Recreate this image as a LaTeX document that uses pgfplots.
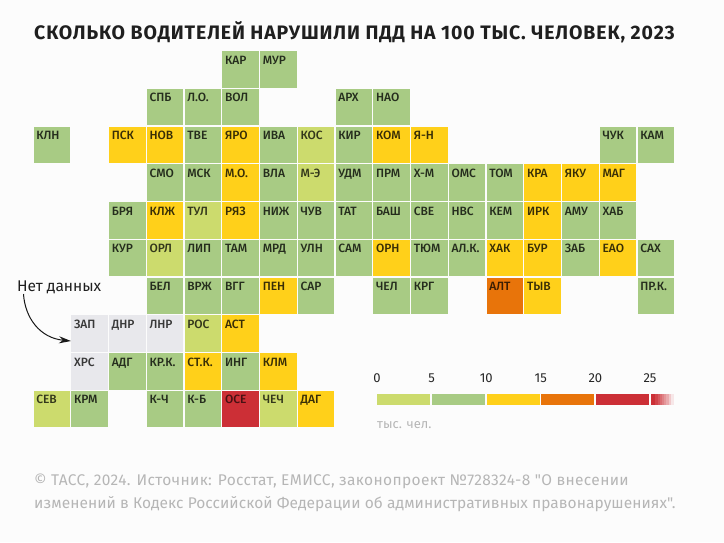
\documentclass[border=0pt]{standalone}
\usepackage{fontspec}
\usepackage{pgfplots}
\usepackage{pgfplotstable}
\pgfplotsset{compat=1.18}
\usetikzlibrary{arrows.meta}
\setmainfont{Fira Sans}
\newfontfamily\cellfont{Fira Sans Medium}
\newfontfamily\titlefont[LetterSpace=4.5]{Fira Sans}
\newfontfamily\footA[LetterSpace=2.3]{Fira Sans}
\newfontfamily\footB[LetterSpace=0.4]{Fira Sans}
\definecolor{bg}{RGB}{252,252,252}
\definecolor{cA}{RGB}{204,219,109}
\definecolor{cB}{RGB}{168,203,132}
\definecolor{cC}{RGB}{255,208,26}
\definecolor{cD}{RGB}{232,116,10}
\definecolor{cE}{RGB}{204,47,54}
\definecolor{cN}{RGB}{232,232,236}
\definecolor{foot}{RGB}{182,182,182}
\pgfplotstableread{
col row name
7 2 КОС
7 3 М-Э
4 4 ТУЛ
3 5 ОРЛ
4 7 РОС
0 9 СЕВ
6 9 ЧЕЧ
}\tabA
\pgfplotstableread{
col row name
5 0 КАР
6 0 МУР
3 1 СПБ
4 1 Л.О.
5 1 ВОЛ
8 1 АРХ
9 1 НАО
0 2 КЛН
4 2 ТВЕ
6 2 ИВА
8 2 КИР
15 2 ЧУК
16 2 КАМ
3 3 СМО
4 3 МСК
6 3 ВЛА
8 3 УДМ
9 3 ПРМ
10 3 Х-М
11 3 ОМС
12 3 ТОМ
2 4 БРЯ
6 4 НИЖ
7 4 ЧУВ
8 4 ТАТ
9 4 БАШ
10 4 СВЕ
11 4 НВС
12 4 КЕМ
14 4 АМУ
15 4 ХАБ
2 5 КУР
4 5 ЛИП
5 5 ТАМ
6 5 МРД
7 5 УЛН
8 5 САМ
10 5 ТЮМ
11 5 АЛ.К.
14 5 ЗАБ
16 5 САХ
3 6 БЕЛ
4 6 ВРЖ
5 6 ВГГ
7 6 САР
9 6 ЧЕЛ
10 6 КРГ
16 6 ПР.К.
2 8 АДГ
3 8 КР.К.
5 8 ИНГ
1 9 КРМ
3 9 К-Ч
4 9 К-Б
}\tabB
\pgfplotstableread{
col row name
2 2 ПСК
3 2 НОВ
5 2 ЯРО
9 2 КОМ
10 2 Я-Н
5 3 М.О.
13 3 КРА
14 3 ЯКУ
15 3 МАГ
3 4 КЛЖ
5 4 РЯЗ
13 4 ИРК
9 5 ОРН
12 5 ХАК
13 5 БУР
15 5 ЕАО
6 6 ПЕН
13 6 ТЫВ
5 7 АСТ
4 8 СТ.К.
6 8 КЛМ
7 9 ДАГ
}\tabC
\pgfplotstableread{
col row name
12 6 АЛТ
}\tabD
\pgfplotstableread{
col row name
5 9 ОСЕ
}\tabE
\pgfplotstableread{
col row name
1 7 ЗАП
2 7 ДНР
3 7 ЛНР
1 8 ХРС
}\tabN
\newcommand\cells[3]{\addplot[only marks,mark=square*,mark size=18.25pt,
  mark options={fill=#1,draw opacity=0,line width=0pt},
  nodes near coords,point meta=explicit symbolic,
  nodes near coords style={font=\cellfont\fontsize{12}{12}\selectfont,text=#2,anchor=base west,inner sep=0pt,
    xshift=-15.6pt,yshift=5.3pt}]
  table[x=col,y=row,meta=name]{#3};}
\newcommand\seg[3]{\addplot[fill=#3,draw=none] coordinates {(#1,0)(#2,0)(#2,1)(#1,1)} --cycle;}
\begin{document}
\begin{tikzpicture}[x=1pt,y=-1pt]
\fill[bg] (0,0) rectangle (724,542);
\begin{axis}[at={(0pt,-542pt)},anchor=south west,
  scale only axis,width=724pt,height=542pt,hide axis,clip=false,
  y dir=reverse,xmin=-1.3748,xmax=17.804,ymin=-1.838,ymax=12.519]
\cells{cA}{cA!25!black}{\tabA}
\cells{cB}{cB!22!black}{\tabB}
\cells{cC}{cC!22!black}{\tabC}
\cells{cD}{cD!25!black}{\tabD}
\cells{cE}{cE!35!black}{\tabE}
\cells{cN}{black!78}{\tabN}
\end{axis}
\begin{axis}[at={(377pt,-405.3pt)},anchor=south west,
  scale only axis,width=297pt,height=11.3pt,
  xmin=0,xmax=27.2,ymin=0,ymax=1,
  axis line style={draw=none},major tick length=0pt,
  ytick=\empty,xtick={0,5,10,15,20,25},
  xticklabel pos=top,
  xticklabel style={font=\fontsize{13}{13}\selectfont,text=black!85,/pgf/number format/assume math mode=true,yshift=8pt}]
\seg{0}{4.86}{cA}
\seg{5.04}{9.89}{cB}
\seg{10.03}{14.9}{cC}
\seg{15.02}{19.87}{cD}
\seg{20.05}{24.9}{cE}
\seg{25.08}{27.2}{cE}
\seg{25.5}{27.2}{cE!90!bg}
\seg{25.7}{27.2}{cE!80!bg}
\seg{25.9}{27.2}{cE!70!bg}
\seg{26.1}{27.2}{cE!60!bg}
\seg{26.3}{27.2}{cE!50!bg}
\seg{26.5}{27.2}{cE!40!bg}
\seg{26.7}{27.2}{cE!25!bg}
\seg{26.9}{27.2}{cE!10!bg}
\end{axis}
\node[anchor=base west,inner sep=0pt,font=\titlefont\bfseries\fontsize{19.5}{20}\selectfont,text=black!88] at (34,39.5) {СКОЛЬКО ВОДИТЕЛЕЙ НАРУШИЛИ ПДД НА 100 ТЫС. ЧЕЛОВЕК, 2023};
\node[anchor=base west,inner sep=0pt,font=\fontsize{15.5}{15.5}\selectfont,text=black!88] at (17,291) {Нет данных};
\node[anchor=base west,inner sep=0pt,font=\fontsize{13}{13}\selectfont,text=foot] at (377,428) {тыс. чел.};
\node[anchor=base west,inner sep=0pt,font=\footA\fontsize{15.5}{15.5}\selectfont,text=foot] at (34,485) {© ТАСС, 2024. Источник: Росстат, ЕМИСС, законопроект №728324-8 "О внесении};
\node[anchor=base west,inner sep=0pt,font=\footB\fontsize{15.5}{15.5}\selectfont,text=foot] at (34,508) {изменений в Кодекс Российской Федерации об административных правонарушениях".};
\draw[-{Stealth[length=12pt,width=7pt]},line width=1pt,black!90] (23.5,294) .. controls (25,318) and (40,338) .. (71,341);
\end{tikzpicture}
\end{document}
